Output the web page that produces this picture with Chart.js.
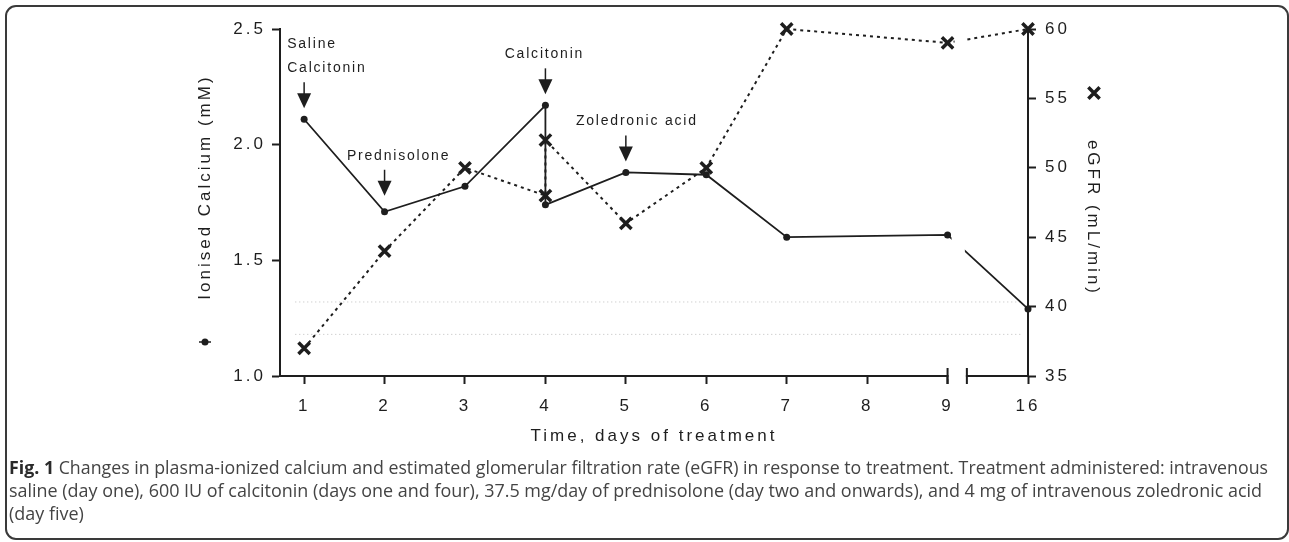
<!DOCTYPE html>
<html>
<head>
<meta charset="utf-8">
<script src="https://cdn.jsdelivr.net/npm/chart.js@4.4.1/dist/chart.umd.min.js"></script>
<style>
  html, body { margin: 0; padding: 0; background: #fff; }
  body { width: 1289px; height: 542px; position: relative; overflow: hidden; }
  #frame { position: absolute; left: 5px; top: 5px; width: 1280px; height: 531px; border: 2px solid #3a3a3a; border-radius: 11px; }
  #wrap { position: absolute; left: 0; top: 0; width: 1289px; height: 460px; }
  #caption { position: absolute; left: 9px; top: 456px; font-family: "Open Sans", sans-serif; font-size: 18px; line-height: 23px; color: #444; }
  #caption div { white-space: nowrap; transform-origin: 0 0; width: max-content; }
  #caption b { color: #2a2a2a; }
</style>
</head>
<body>
<div id="frame"></div>
<div id="wrap"><canvas id="chart" width="1289" height="460"></canvas></div>
<div id="caption">
  <div id="cap1"><b>Fig. 1</b> Changes in plasma-ionized calcium and estimated glomerular filtration rate (eGFR) in response to treatment. Treatment administered: intravenous</div>
  <div id="cap2">saline (day one), 600 IU of calcitonin (days one and four), 37.5 mg/day of prednisolone (day two and onwards), and 4 mg of intravenous zoledronic acid</div>
  <div id="cap3">(day five)</div>
</div>
<script>
// x axis is categorical-ish: 1..9 then a break, then day 16
const dayLabels = ['1', '2', '3', '4', '5', '6', '7', '8', '9', '16'];
const calciumTicks = [1.0, 1.5, 2.0, 2.5];
const egfrTicks = [35, 40, 45, 50, 55, 60];

// ionised calcium (mM), day 4 measured twice
const calciumDays = [1, 2, 3, 4, 4, 5, 6, 7, 9, 16];
const calciumValues = [2.11, 1.71, 1.82, 2.17, 1.74, 1.88, 1.87, 1.60, 1.61, 1.29];

// eGFR (mL/min)
const egfrDays = [1, 2, 3, 4, 4, 5, 6, 7, 9, 16];
const egfrValues = [37, 44, 50, 48, 52, 46, 50, 60, 59, 60];

// normal range of ionised calcium, drawn as dotted lines
const normalRange = [1.18, 1.32];
const normalSpan = [0.89, 9.94]; // in axis positions

const treatmentDays = [1, 2, 4, 5];
const treatmentLabels = [['Saline', 'Calcitonin'], ['Prednisolone'], ['Calcitonin'], ['Zoledronic acid']];

const ink = '#1e1e1e';
const family = '"Liberation Sans", Arial, sans-serif';

function pos(day) {
    return dayLabels.indexOf(String(day)) + 1;
}

const breakPos = pos(9);
const breakWidth = 0.24;

// axis break + letter spacing of the axis text
const axisBreak = {
    id: 'axisBreak',
    beforeDraw(chart) { chart.ctx.letterSpacing = '3px'; },
    beforeDatasetsDraw(chart) { chart.ctx.letterSpacing = '0px'; },
    beforeDatasetDraw(chart, args) {
        const ds = chart.data.datasets[args.index];
        if (!ds.broken) return;
        const { ctx, scales } = chart;
        const x0 = scales.x.getPixelForValue(breakPos) + ds.breakGap;
        const x1 = scales.x.getPixelForValue(breakPos + breakWidth) - 2;
        ctx.save();
        ctx.beginPath();
        ctx.rect(0, 0, chart.width, chart.height);
        ctx.rect(x0, 0, x1 - x0, chart.height);
        ctx.clip('evenodd');
    },
    afterDatasetDraw(chart, args) {
        if (chart.data.datasets[args.index].broken) chart.ctx.restore();
    },
    afterDraw(chart) {
        const { ctx, scales: { x } } = chart;
        const a = x.getPixelForValue(breakPos);
        const b = x.getPixelForValue(breakPos + breakWidth);
        const y = x.top;
        ctx.save();
        ctx.fillStyle = '#fff';
        ctx.fillRect(a + 1, y - 3, b - a - 2, 6);
        ctx.strokeStyle = ink;
        ctx.lineWidth = 2;
        ctx.beginPath();
        ctx.moveTo(a, y - 8); ctx.lineTo(a, y + 8);
        ctx.moveTo(b, y - 8); ctx.lineTo(b, y + 8);
        ctx.stroke();
        ctx.restore();
    }
};

// legend symbols next to the axis titles
const axisMarkers = {
    id: 'axisMarkers',
    afterDraw(chart) {
        const { ctx, scales: { y, y1 } } = chart;
        const lx = y.left + 25, ly = y.bottom - 34;
        const rx = y1.right - 34, ry = y1.top + 64;
        ctx.save();
        ctx.strokeStyle = ink;
        ctx.fillStyle = ink;
        ctx.lineWidth = 1.5;
        ctx.beginPath();
        ctx.moveTo(lx - 6, ly); ctx.lineTo(lx + 6, ly);
        ctx.stroke();
        Chart.helpers.drawPoint(ctx, { pointStyle: 'circle', radius: 3.5, borderWidth: 0 }, lx, ly);
        ctx.lineWidth = 3.5;
        Chart.helpers.drawPoint(ctx, { pointStyle: 'crossRot', radius: 8, borderWidth: 3.5 }, rx, ry);
        ctx.restore();
    }
};

// treatment arrows above the calcium points
const treatmentArrows = {
    id: 'treatmentArrows',
    afterDatasetsDraw(chart, args, opts) {
        const { ctx, scales: { x, y } } = chart;
        ctx.save();
        ctx.letterSpacing = '1.8px';
        ctx.font = '14px ' + family;
        ctx.fillStyle = ink;
        ctx.strokeStyle = ink;
        treatmentDays.forEach((day, i) => {
            const top = Math.max(...calciumValues.filter((v, j) => calciumDays[j] === day));
            const o = opts.offsets[i];
            const px = x.getPixelForValue(pos(day));
            const tip = y.getPixelForValue(top) - 11 + o.dy;
            ctx.lineWidth = 1.5;
            ctx.beginPath();
            ctx.moveTo(px, tip - 26); ctx.lineTo(px, tip - 14);
            ctx.stroke();
            ctx.beginPath();
            ctx.moveTo(px - 7, tip - 15); ctx.lineTo(px + 7, tip - 15); ctx.lineTo(px, tip);
            ctx.closePath();
            ctx.fill();
            const lines = treatmentLabels[i];
            ctx.textAlign = o.align;
            ctx.textBaseline = 'middle';
            lines.forEach((t, k) => {
                ctx.fillText(t, px + o.dx, tip - 40 - (lines.length - 1 - k) * 24);
            });
        });
        ctx.restore();
    }
};

const config = {
    type: 'line',
    data: {
        datasets: [
            {
                label: 'Ionised Calcium',
                data: calciumDays.map((d, i) => ({ x: pos(d), y: calciumValues[i] })),
                yAxisID: 'y',
                borderColor: ink,
                borderWidth: 1.8,
                pointStyle: 'circle',
                pointRadius: 3.5,
                pointBackgroundColor: ink,
                pointBorderWidth: 0,
                tension: 0,
                clip: false,
                broken: true,
                breakGap: 4
            },
            {
                label: 'eGFR',
                data: egfrDays.map((d, i) => ({ x: pos(d), y: egfrValues[i] })),
                yAxisID: 'y1',
                borderColor: ink,
                borderWidth: 2,
                borderDash: [3, 4],
                pointStyle: 'crossRot',
                pointRadius: 8,
                pointBorderColor: ink,
                pointBorderWidth: 3.5,
                tension: 0,
                clip: false,
                broken: true,
                breakGap: 7
            },
            ...normalRange.map(v => ({
                label: 'normal',
                data: normalSpan.map(p => ({ x: p, y: v })),
                yAxisID: 'y',
                borderColor: '#bdbdbd',
                borderWidth: 1,
                borderDash: [1, 3],
                pointRadius: 0,
                clip: false
            }))
        ]
    },
    options: {
        responsive: false,
        devicePixelRatio: 1,
        animation: false,
        layout: { padding: { left: 180, right: 161, top: 29, bottom: 0 } },
        plugins: {
            legend: { display: false },
            tooltip: { enabled: false },
            treatmentArrows: {
                offsets: [
                    { align: 'left', dx: -17, dy: 0 },
                    { align: 'center', dx: 14, dy: -5 },
                    { align: 'center', dx: -1, dy: 0 },
                    { align: 'center', dx: 11, dy: 0 }
                ]
            }
        },
        scales: {
            x: {
                type: 'linear',
                min: 0.7,
                max: 10,
                afterBuildTicks: s => { s.ticks = dayLabels.map((_, i) => ({ value: i + 1 })); },
                afterFit: s => { s.height = 84; },
                grid: { drawOnChartArea: false, drawTicks: true, tickLength: 8, tickWidth: 2, tickColor: ink },
                border: { display: true, color: ink, width: 2 },
                ticks: {
                    color: ink,
                    font: { family, size: 17 },
                    padding: 12,
                    maxRotation: 0,
                    autoSkip: false,
                    callback: v => dayLabels[Math.round(v) - 1]
                },
                title: {
                    display: true,
                    text: 'Time, days of treatment',
                    color: ink,
                    font: { family, size: 17 },
                    padding: { top: 0, bottom: 13 }
                }
            },
            y: {
                position: 'left',
                min: 1,
                max: 2.5,
                afterBuildTicks: s => { s.ticks = calciumTicks.map(v => ({ value: v })); },
                afterFit: s => { s.width = 100; },
                grid: { drawOnChartArea: false, drawTicks: true, tickLength: 8, tickWidth: 2, tickColor: ink },
                border: { display: true, color: ink, width: 2 },
                ticks: { color: ink, font: { family, size: 17 }, padding: 6, callback: v => v.toFixed(1) },
                title: {
                    display: true,
                    text: '    Ionised Calcium (mM)',
                    color: ink,
                    font: { family, size: 17 },
                    padding: { top: 15, bottom: 0 }
                }
            },
            y1: {
                position: 'right',
                min: 35,
                max: 60,
                afterBuildTicks: s => { s.ticks = egfrTicks.map(v => ({ value: v })); },
                afterFit: s => { s.width = 100; },
                grid: { drawOnChartArea: false, drawTicks: true, tickLength: 8, tickWidth: 2, tickColor: ink },
                border: { display: true, color: ink, width: 2 },
                ticks: { color: ink, font: { family, size: 17 }, padding: 9 },
                title: {
                    display: true,
                    text: '    eGFR (mL/min)',
                    color: ink,
                    font: { family, size: 17 },
                    padding: { top: 25, bottom: 0 }
                }
            }
        }
    },
    plugins: [axisBreak, axisMarkers, treatmentArrows]
};

new Chart(document.getElementById('chart').getContext('2d'), config);

// squeeze the caption lines to the widths of the original
function fitLine(el, target) {
    const s = target / el.getBoundingClientRect().width;
    el.style.transform = 'scaleX(' + s + ')';
    return s;
}
fitLine(document.getElementById('cap1'), 1259);
const s2 = fitLine(document.getElementById('cap2'), 1253);
document.getElementById('cap3').style.transform = 'scaleX(' + s2 + ')';
</script>
</body>
</html>
